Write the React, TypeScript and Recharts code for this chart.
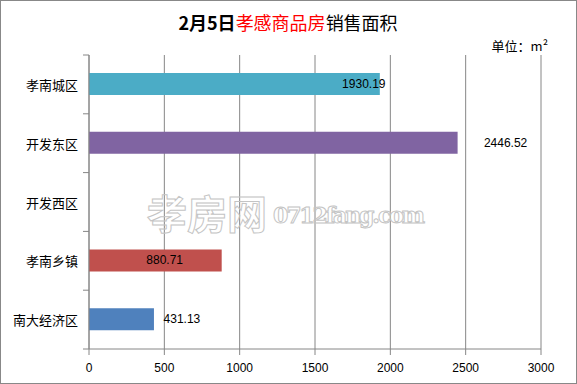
import React from 'react';
import { BarChart, Bar, XAxis, YAxis, CartesianGrid, Cell, LabelList } from 'recharts';

const categories = ['孝南城区', '开发东区', '开发西区', '孝南乡镇', '南大经济区'];
const areaValues: (number | null)[] = [1930.19, 2446.52, null, 880.71, 431.13];
const xTicks = [0, 500, 1000, 1500, 2000, 2500, 3000];
const barColors = ['#4BACC6', '#8064A2', '#9BBB59', '#C0504D', '#4F81BD'];
// horizontal offset of each value label's centre from the bar end (styling)
const labelShift = [-16, 48, 0, -57, 28];

const data = categories.map((name, i) => ({ name, value: areaValues[i] }));

const W = 577;
const H = 384;
const XH = 30;
const M = { top: 55, right: 36, bottom: 5, left: 0 };
const YW = 89;
const AXIS_X = M.left + YW;
const plotH = H - M.top - M.bottom - XH;
const band = plotH / categories.length;
const GRID = '#868686';
const CJK = '"Noto Sans CJK SC", "Noto Sans", sans-serif';
const NUM = '"Liberation Sans", Arial, sans-serif';

const CatTick = (props: any) => {
  const { y, payload, index } = props;
  const last = index === categories.length - 1;
  return (
    <g>
      <text x={AXIS_X - 11} y={y} textAnchor="end" dominantBaseline="central" fontSize={13} fontFamily={CJK} fill="#000">
        {payload.value}
      </text>
      <line x1={AXIS_X - 6} x2={AXIS_X} y1={y - band / 2} y2={y - band / 2} stroke={GRID} />
      {last && <line x1={AXIS_X - 6} x2={AXIS_X} y1={y + band / 2} y2={y + band / 2} stroke={GRID} />}
    </g>
  );
};

const renderLabel = (props: any) => {
  const { x, y, width, height, value } = props;
  if (value == null) return null;
  const i = areaValues.indexOf(value);
  return (
    <text x={x + width + labelShift[i]} y={y + height / 2} textAnchor="middle" dominantBaseline="central" fontSize={12} fontFamily={NUM} fill="#000">
      {Number(value).toFixed(2)}
    </text>
  );
};

export default function App() {
  return (
    <div style={{ position: 'absolute', left: 0, top: 0, width: W, height: H, background: '#fff' }}>
      <BarChart width={W} height={H} data={data} layout="vertical" margin={M} barSize={22}>
        <CartesianGrid horizontal={false} stroke={GRID} />
        <XAxis
          type="number"
          domain={[0, 3000]}
          ticks={xTicks}
          interval={0}
          height={XH}
          stroke={GRID}
          tickSize={6}
          tickMargin={8}
          tick={{ fill: '#000', fontSize: 12, fontFamily: NUM }}
        />
        <YAxis
          type="category"
          dataKey="name"
          width={YW}
          stroke={GRID}
          tickLine={false}
          tick={<CatTick />}
          interval={0}
        />
        <Bar dataKey="value" isAnimationActive={false}>
          {data.map((d, i) => (
            <Cell key={d.name} fill={barColors[i]} />
          ))}
          <LabelList dataKey="value" content={renderLabel} />
        </Bar>
      </BarChart>
      <svg width={W} height={H} style={{ position: 'absolute', left: 0, top: 0, pointerEvents: 'none' }}>
        <rect x={0.5} y={0.5} width={W - 1} height={H - 1} fill="none" stroke="#888" />
        <text x={288} y={30} textAnchor="middle" fontSize={18} fontFamily={CJK}>
          <tspan fontWeight="bold" fill="#000">2月5日</tspan>
          <tspan fill="#FF0000">孝感商品房</tspan>
          <tspan fill="#000">销售面积</tspan>
        </text>
        <text x={548} y={51} textAnchor="end" fontSize={13} fontFamily={CJK} fill="#000">单位：m²</text>
        <text x={147} y={229} fontSize={40} fontFamily={CJK} fontWeight="bold" fill="none" stroke="#c4c4c4" strokeWidth={1}>孝房网</text>
        <text x={273} y={223} fontSize={22} fontFamily='"DejaVu Serif", serif' fontWeight="bold" fill="none" stroke="#c4c4c4" strokeWidth={1} textLength={152}>0712fang.com</text>
      </svg>
    </div>
  );
}
